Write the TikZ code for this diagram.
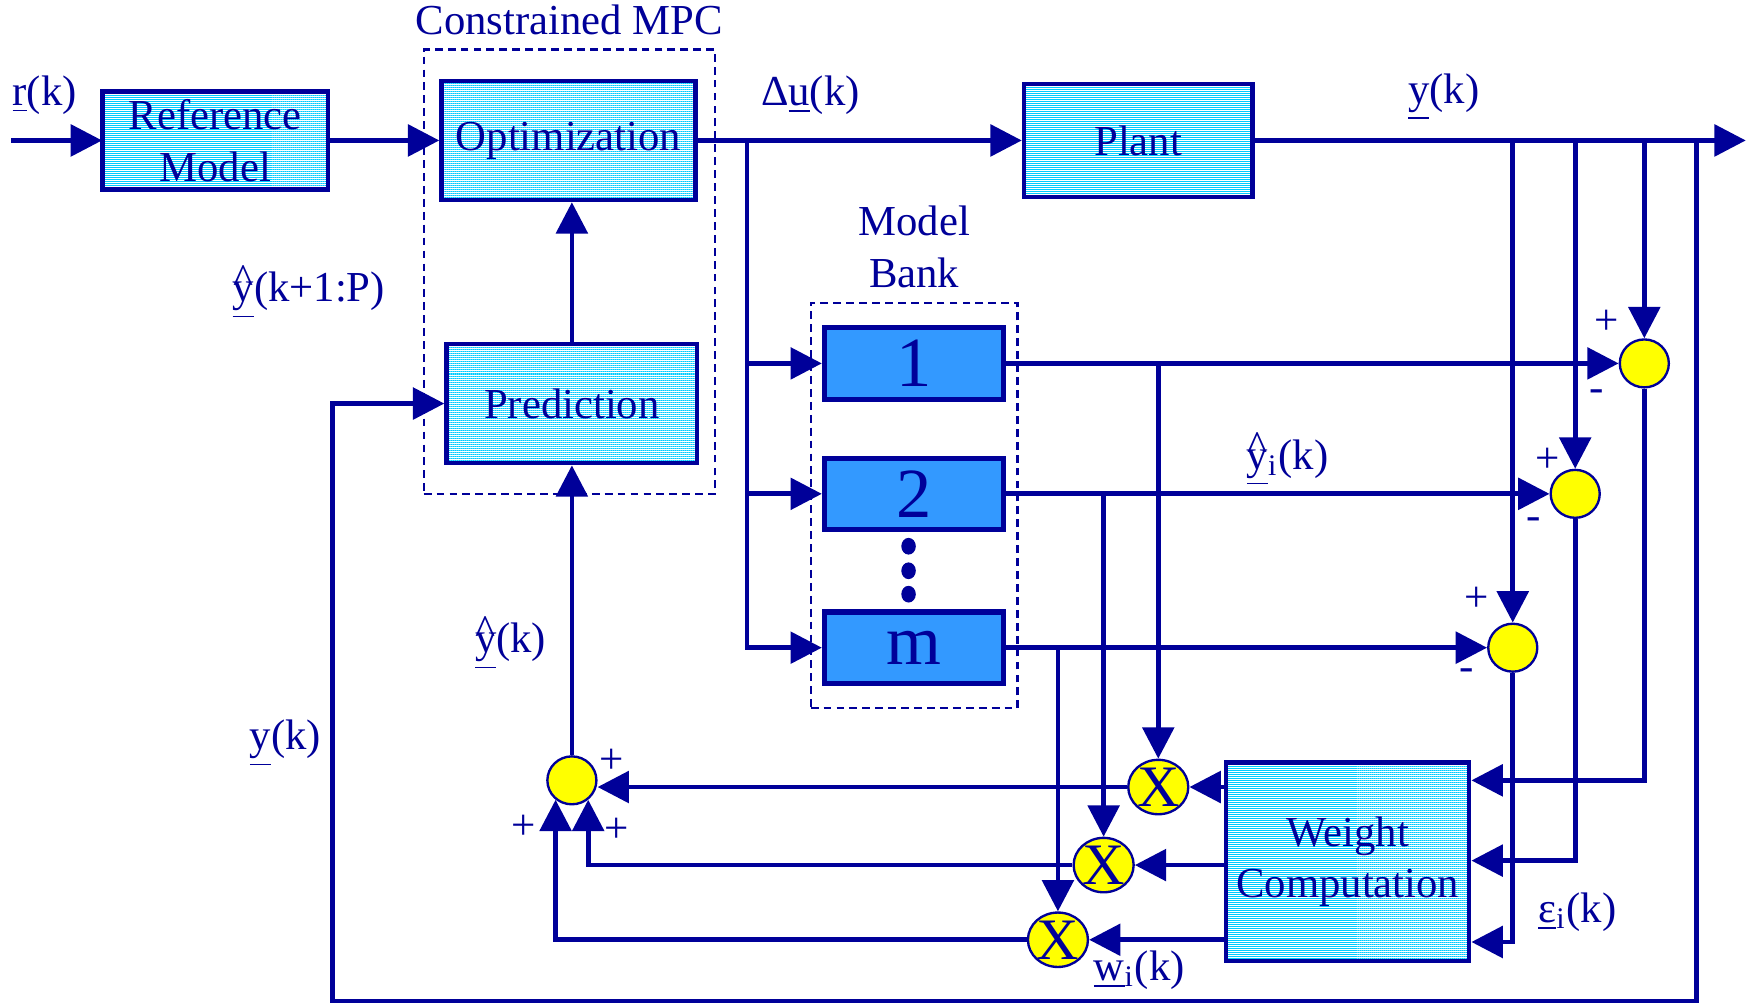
\documentclass[tikz,border=0pt]{standalone}
\usepackage{fontspec}
\setmainfont{Liberation Serif}
\usetikzlibrary{arrows.meta,positioning,shapes.geometric,fit,patterns.meta}
\definecolor{mnavy}{RGB}{0,0,153}
\definecolor{mcyan}{RGB}{0,204,255}
\definecolor{mbank}{RGB}{51,153,255}
\definecolor{myel}{RGB}{255,255,0}
\newcommand{\yhat}{\rlap{\hspace{0.015em}\raisebox{0.2em}{\textasciicircum}}\underline{y}}

\begin{document}
\begin{tikzpicture}[
  x=0.1mm, y=-0.1mm, font=\fontsize{10.9}{13.2}\selectfont, text=mnavy,
  blk/.style={draw=mnavy, line width=1.1pt, pattern={Lines[angle=0,distance=0.51pt,line width=0.25pt]}, pattern color=mcyan, align=center, inner sep=0pt},
  bank/.style={draw=mnavy, line width=1.3pt, fill=mbank, minimum width=16.1mm, minimum height=6.4mm, inner sep=0pt, font=\fontsize{18}{18}\selectfont},
  sum/.style={ellipse, draw=mnavy, line width=0.6pt, fill=myel, minimum width=4.4mm, minimum height=4.3mm, inner sep=0pt},
  mult/.style={sum, font=\fontsize{15}{15}\selectfont},
  bdot/.style={ellipse, fill=mnavy, minimum width=1.3mm, minimum height=1.5mm, inner sep=0pt},
  sgn/.style={font=\fontsize{11}{11}\selectfont},
  conn/.style={draw=mnavy, line width=1.2pt, -{Triangle[length=8pt,width=8pt]}},
  dbox/.style={draw=mnavy, line width=0.6pt, dash pattern=on 2pt off 1.3pt}
]
\path[use as bounding box, fill=white] (0,0) rectangle (1568,901);
% blocks
\node[blk, minimum width=20.2mm, minimum height=8.8mm] (refm) at (193,126) {Reference\\Model};
\node[blk, minimum width=22.8mm, minimum height=10.7mm] (opt) at (510,126) {Optimization};
\node[blk, minimum width=22.5mm, minimum height=10.7mm] (pred) at (513,362) {Prediction};
\node[blk, minimum width=20.5mm, minimum height=10.1mm] (plant) at (1021,126) {Plant};
\node[blk, minimum width=21.8mm, minimum height=17.8mm] (wc) at (1209,773) {Weight\\Computation};
\node[dbox, fit=(opt)(pred), inner xsep=1.4mm, inner ysep=2.6mm] (mpc) {};
\node[above=0pt of mpc] (mpclbl) {Constrained MPC};
% model bank
\node[bank] (m1) at (820,326) {1};
\node[bank] (m2) at (820,443) {2};
\node[bank] (mm) at (820,581) {m};
\foreach \yy [count=\i] in {490,512,533}
  \node[bdot] (dot\i) at (815,\yy) {};
\node[dbox, fit=(m1)(mm), inner xsep=1mm, inner ysep=2mm] (bankbox) {};
\node[above=0pt of bankbox, align=center] (banklbl) {Model\\Bank};
% sums and multipliers
\node[sum] (s1) at (1475,326) {};
\node[sum] (s2) at (1413,443) {};
\node[sum] (s3) at (1357,581) {};
\node[sum] (sy) at (513,700) {};
\node[mult] (x1) at (1039,706) {X};
\node[mult] (x2) at (990,776) {X};
\node[mult] (x3) at (949,843) {X};
% labels
\node (rlbl) at (40,85) {\underline{r}(k)};
\node (yplbl) at (277,262) {\yhat(k+1:P)};
\node (dulbl) at (727,85) {Δ\underline{u}(k)};
\node (ylbl) at (1295,87) {\underline{y}(k)};
\node (yilbl) at (1155,412) {\yhat\textsubscript{i}(k)};
\node (yhlbl) at (458,577) {\yhat(k)};
\node (yklbl) at (256,667) {\underline{y}(k)};
\node (wlbl) at (1022,870) {\underline{w}\textsubscript{i}(k)};
\node (elbl) at (1415,818) {\underline{ε}\textsubscript{i}(k)};
\node[sgn] (p1) at (1441,289) {+};
\node[sgn] (n1) at (1432,355) {-};
\node[sgn] (p2) at (1388,413) {+};
\node[sgn] (n2) at (1376,470) {-};
\node[sgn] (p3) at (1325,538) {+};
\node[sgn] (n3) at (1316,605) {-};
\node[sgn] (pa) at (549,683) {+};
\node[sgn] (pb) at (470,742) {+};
\node[sgn] (pc) at (553,745) {+};
% connectors
\coordinate (rin) at (10,126);
\coordinate (yout) at (1566,126);
\coordinate (du) at (670,126);
\coordinate (tap) at (1522,126);
\coordinate (lp) at (298,898);
\draw[conn] (rin) -- (refm);
\draw[conn] (refm) -- (opt);
\draw[conn] (opt) -- (plant);
\draw[conn] (plant) -- (yout);
\draw[conn] (pred.north) -- (pred.north |- opt.south);
\foreach \m in {m1,m2,mm}
  \draw[conn] (du) |- (\m.west);
\foreach \s in {s1,s2,s3}
  \draw[conn] (\s |- yout) -- (\s.north);
\draw[conn] (m1) -- (s1);
\draw[conn] (m2) -- (s2);
\draw[conn] (mm) -- (s3);
\draw[conn] (m1 -| x1) -- (x1.north);
\draw[conn] (m2 -| x2) -- (x2.north);
\draw[conn] (mm -| x3) -- (x3.north);
\draw[conn] (s1.south) |- (wc.east |- 0,700);
\draw[conn] (s2.south) |- (wc.east |- 0,772);
\draw[conn] (s3.south) |- (wc.east |- 0,845);
\foreach \x in {x1,x2,x3}
  \draw[conn] (wc.west |- \x) -- (\x.east);
\draw[conn] (x1.west) -- (sy.east |- x1.west);
\draw[conn] (x2.west) -| (sy.-50);
\draw[conn] (x3.west) -| (sy.-130);
\draw[conn] (sy.north) -- (sy.north |- pred.south);
\draw[conn] (tap) |- (lp) |- (pred.west);
\end{tikzpicture}
\end{document}
